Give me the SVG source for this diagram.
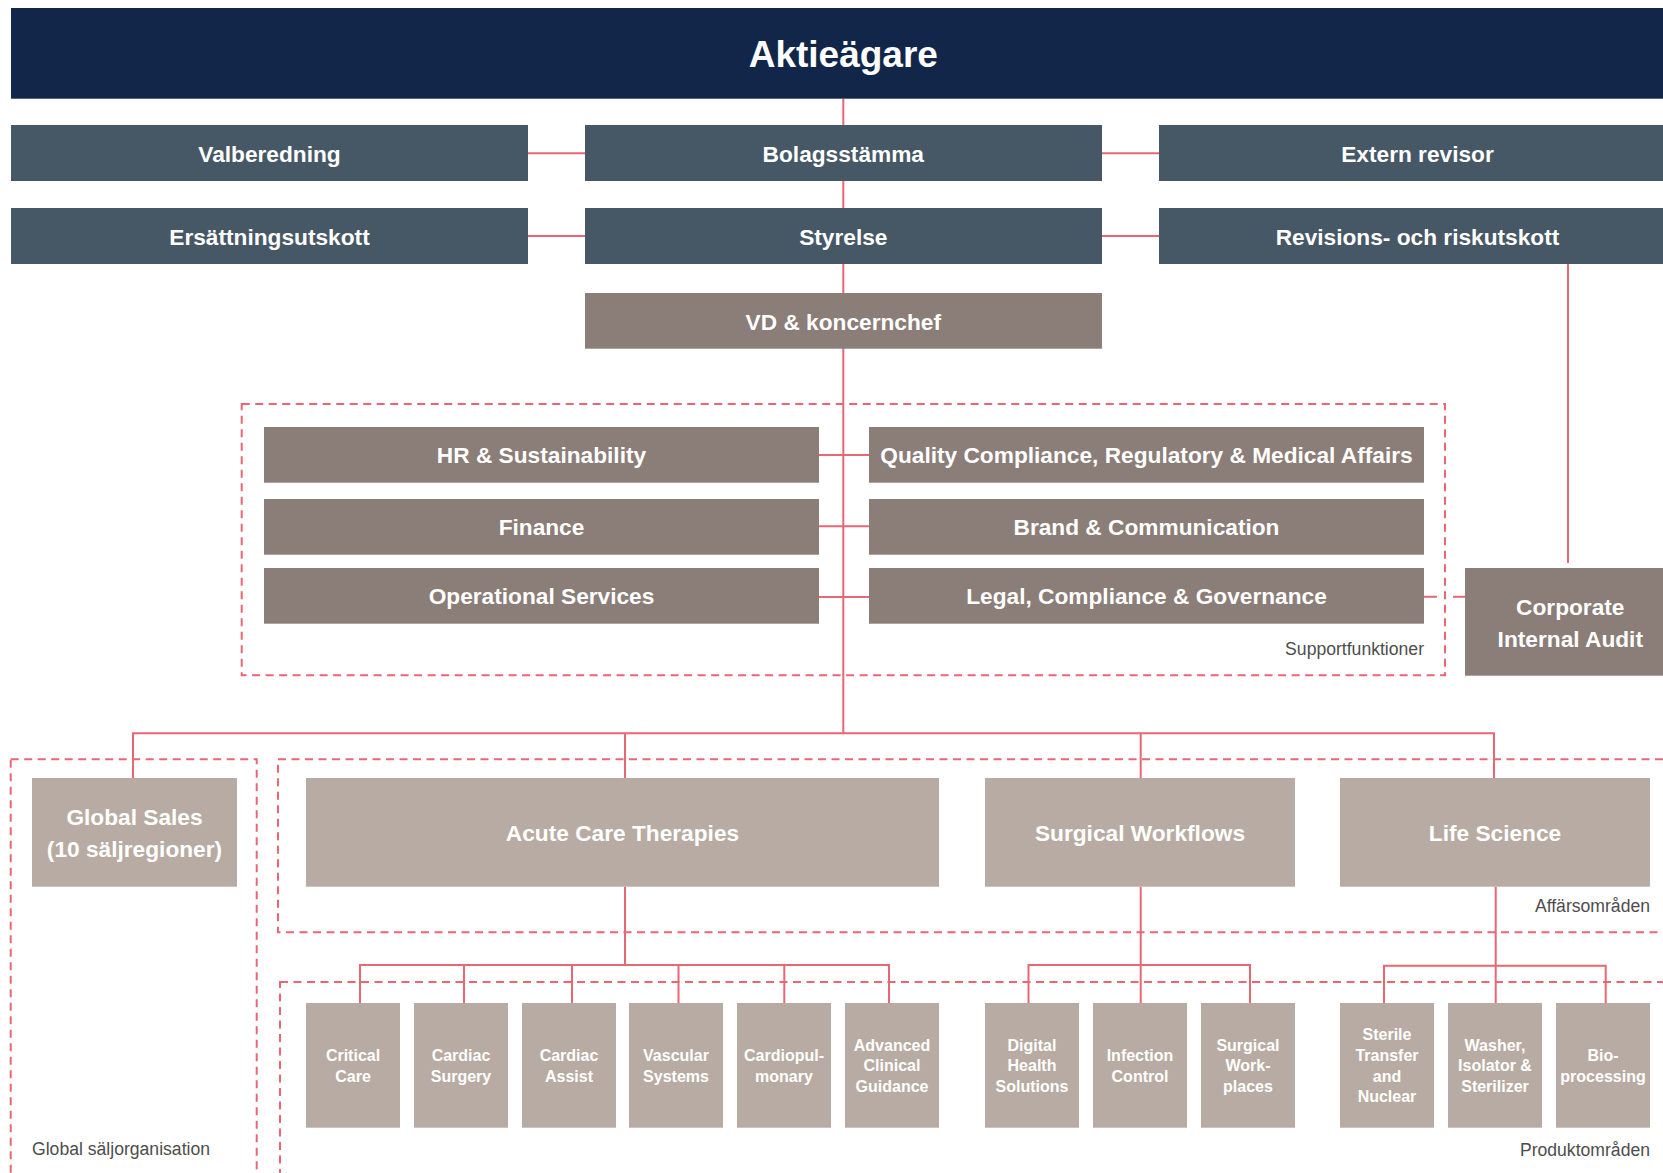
<svg xmlns="http://www.w3.org/2000/svg" width="1663" height="1173" viewBox="0 0 1663 1173">
<style>
.bg{fill:#ffffff}
.navy{fill:#12264a}
.slate{fill:#465866}
.taupe{fill:#8b7d77}
.light{fill:#b8aba3}
.t{font-family:"Liberation Sans",Arial,sans-serif;font-weight:bold;fill:#ffffff;text-anchor:middle}
.big{font-size:37px}
.lbl{font-size:22.7px}
.sm{font-size:16px}
.cap{font-family:"Liberation Sans",Arial,sans-serif;font-size:17.6px;fill:#4d4d4d}
.con{fill:none;stroke:#e96675;stroke-width:2}
.dash{fill:none;stroke:#e96675;stroke-width:2;stroke-dasharray:8 5.5}
</style>
<rect class="bg" x="0" y="0" width="1663" height="1173"/>
<g id="groups">
  <rect class="dash" x="241.7" y="404" width="1203.3" height="271.3"/>
  <rect class="dash" x="10.7" y="759.3" width="246" height="440"/>
  <rect class="dash" x="278" y="759.3" width="1420" height="173"/>
  <rect class="dash" x="280" y="982" width="1420" height="230"/>
  <text class="cap" x="1424" y="655" text-anchor="end">Supportfunktioner</text>
  <text class="cap" x="1650" y="912" text-anchor="end">Affärsområden</text>
  <text class="cap" x="1650" y="1155.7" text-anchor="end">Produktområden</text>
  <text class="cap" x="32" y="1155">Global säljorganisation</text>
</g>
<g id="connectors">
  <path class="con" d="M843.3 98.7 V733.3"/>
  <path class="con" d="M528 153.3 H585 M1102 153.3 H1159 M528 236 H585 M1102 236 H1159"/>
  <path class="con" d="M1568 264 V563"/>
  <path class="con" d="M819 455 H869 M819 526.3 H869 M819 597 H869"/>
  <path class="con" d="M1424 596.7 H1437 M1453 596.7 H1465"/>
  <path class="con" d="M133 778 V733.3 H1494 V778 M625 733.3 V778 M1140.7 733.3 V778"/>
  <path class="con" d="M625 886.7 V965 M360 1003 V965 H889 V1003 M464 965 V1003 M572 965 V1003 M678.5 965 V1003 M784.3 965 V1003"/>
  <path class="con" d="M1140.7 886.7 V1003 M1028.5 1003 V965 H1250 V1003"/>
  <path class="con" d="M1495.7 886.7 V1003 M1384 1003 V965.7 H1605.7 V1003"/>
</g>
<g id="aktieagare"><rect class="navy" x="11" y="8" width="1665" height="90.7"/><text class="t big" x="843.3" y="66.7">Aktieägare</text></g>
<g id="valberedning"><rect class="slate" x="11" y="125" width="517" height="56"/><text class="t lbl" x="269.5" y="161.7">Valberedning</text></g>
<g id="bolagsstamma"><rect class="slate" x="585" y="125" width="517" height="56"/><text class="t lbl" x="843.3" y="161.7">Bolagsstämma</text></g>
<g id="extern-revisor"><rect class="slate" x="1159" y="125" width="517" height="56"/><text class="t lbl" x="1417.5" y="161.7">Extern revisor</text></g>
<g id="ersattningsutskott"><rect class="slate" x="11" y="208" width="517" height="56"/><text class="t lbl" x="269.5" y="244.7">Ersättningsutskott</text></g>
<g id="styrelse"><rect class="slate" x="585" y="208" width="517" height="56"/><text class="t lbl" x="843.3" y="244.7">Styrelse</text></g>
<g id="revisionsutskott"><rect class="slate" x="1159" y="208" width="517" height="56"/><text class="t lbl" x="1417.5" y="244.7">Revisions- och riskutskott</text></g>
<g id="vd"><rect class="taupe" x="585" y="293" width="517" height="55.7"/><text class="t lbl" x="843.3" y="329.5">VD &amp; koncernchef</text></g>
<g id="hr"><rect class="taupe" x="264" y="427" width="555" height="55.7"/><text class="t lbl" x="541.5" y="463.3">HR &amp; Sustainability</text></g>
<g id="finance"><rect class="taupe" x="264" y="499" width="555" height="55.7"/><text class="t lbl" x="541.5" y="535.3">Finance</text></g>
<g id="operational"><rect class="taupe" x="264" y="568" width="555" height="55.7"/><text class="t lbl" x="541.5" y="604.3">Operational Services</text></g>
<g id="quality"><rect class="taupe" x="869" y="427" width="555" height="55.7"/><text class="t lbl" x="1146.5" y="463.3">Quality Compliance, Regulatory &amp; Medical Affairs</text></g>
<g id="brand"><rect class="taupe" x="869" y="499" width="555" height="55.7"/><text class="t lbl" x="1146.5" y="535.3">Brand &amp; Communication</text></g>
<g id="legal"><rect class="taupe" x="869" y="568" width="555" height="55.7"/><text class="t lbl" x="1146.5" y="604.3">Legal, Compliance &amp; Governance</text></g>
<g id="corporate-audit"><rect class="taupe" x="1465" y="568" width="211" height="107.7"/><text class="t lbl"><tspan x="1570.3" y="615">Corporate</tspan><tspan x="1570.3" y="646.7">Internal Audit</tspan></text></g>
<g id="global-sales"><rect class="light" x="32" y="778" width="205" height="108.7"/><text class="t lbl"><tspan x="134.5" y="825">Global Sales</tspan><tspan x="134.5" y="856.7">(10 säljregioner)</tspan></text></g>
<g id="acute"><rect class="light" x="306" y="778" width="633" height="108.7"/><text class="t lbl" x="622.5" y="841">Acute Care Therapies</text></g>
<g id="surgical-workflows"><rect class="light" x="985" y="778" width="310" height="108.7"/><text class="t lbl" x="1140" y="841">Surgical Workflows</text></g>
<g id="life-science"><rect class="light" x="1340" y="778" width="310" height="108.7"/><text class="t lbl" x="1495" y="841">Life Science</text></g>
<g id="critical-care"><rect class="light" x="306" y="1003" width="94" height="124.7"/><text class="t sm"><tspan x="353" y="1061">Critical</tspan><tspan x="353" y="1081.7">Care</tspan></text></g>
<g id="cardiac-surgery"><rect class="light" x="414" y="1003" width="94" height="124.7"/><text class="t sm"><tspan x="461" y="1061">Cardiac</tspan><tspan x="461" y="1081.7">Surgery</tspan></text></g>
<g id="cardiac-assist"><rect class="light" x="522" y="1003" width="94" height="124.7"/><text class="t sm"><tspan x="569" y="1061">Cardiac</tspan><tspan x="569" y="1081.7">Assist</tspan></text></g>
<g id="vascular"><rect class="light" x="629" y="1003" width="94" height="124.7"/><text class="t sm"><tspan x="676" y="1061">Vascular</tspan><tspan x="676" y="1081.7">Systems</tspan></text></g>
<g id="cardiopulmonary"><rect class="light" x="737" y="1003" width="94" height="124.7"/><text class="t sm"><tspan x="784" y="1061">Cardiopul-</tspan><tspan x="784" y="1081.7">monary</tspan></text></g>
<g id="advanced"><rect class="light" x="845" y="1003" width="94" height="124.7"/><text class="t sm"><tspan x="892" y="1050.7">Advanced</tspan><tspan x="892" y="1071.3">Clinical</tspan><tspan x="892" y="1092">Guidance</tspan></text></g>
<g id="digital"><rect class="light" x="985" y="1003" width="94" height="124.7"/><text class="t sm"><tspan x="1032" y="1050.7">Digital</tspan><tspan x="1032" y="1071.3">Health</tspan><tspan x="1032" y="1092">Solutions</tspan></text></g>
<g id="infection"><rect class="light" x="1093" y="1003" width="94" height="124.7"/><text class="t sm"><tspan x="1140" y="1061">Infection</tspan><tspan x="1140" y="1081.7">Control</tspan></text></g>
<g id="surgical-workplaces"><rect class="light" x="1201" y="1003" width="94" height="124.7"/><text class="t sm"><tspan x="1248" y="1050.7">Surgical</tspan><tspan x="1248" y="1071.3">Work-</tspan><tspan x="1248" y="1092">places</tspan></text></g>
<g id="sterile"><rect class="light" x="1340" y="1003" width="94" height="124.7"/><text class="t sm"><tspan x="1387" y="1040.3">Sterile</tspan><tspan x="1387" y="1061">Transfer</tspan><tspan x="1387" y="1081.7">and</tspan><tspan x="1387" y="1102.3">Nuclear</tspan></text></g>
<g id="washer"><rect class="light" x="1448" y="1003" width="94" height="124.7"/><text class="t sm"><tspan x="1495" y="1050.7">Washer,</tspan><tspan x="1495" y="1071.3">Isolator &amp;</tspan><tspan x="1495" y="1092">Sterilizer</tspan></text></g>
<g id="bioprocessing"><rect class="light" x="1556" y="1003" width="94" height="124.7"/><text class="t sm"><tspan x="1603" y="1061">Bio-</tspan><tspan x="1603" y="1081.7">processing</tspan></text></g>
</svg>
